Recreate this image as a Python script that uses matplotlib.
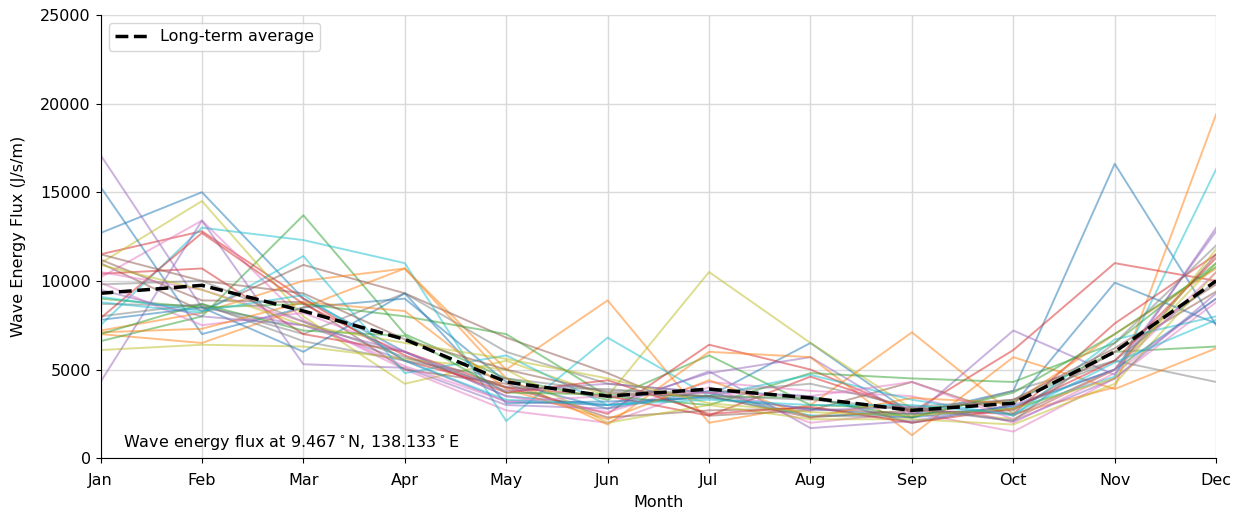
import matplotlib
matplotlib.use("Agg")
import matplotlib.pyplot as plt

months = ["Jan", "Feb", "Mar", "Apr", "May", "Jun", "Jul", "Aug", "Sep", "Oct", "Nov", "Dec"]

# monthly wave energy flux per year (J/s/m)
years_flux = [
    [12700, 15000, 9000, 6000, 3500, 3000, 3500, 6500, 2500, 3800, 16600, 7500],
    [7000, 6500, 8500, 10700, 5000, 8900, 2000, 3000, 7100, 2500, 4000, 19400],
    [6600, 8000, 13700, 7000, 4500, 3300, 5800, 3000, 2800, 3200, 6000, 6300],
    [11500, 12800, 9000, 5500, 4000, 2500, 6400, 5000, 2600, 6100, 11000, 10000],
    [17100, 8500, 7500, 5500, 3200, 3000, 4800, 5700, 2300, 7200, 4700, 13000],
    [11000, 8300, 10900, 9300, 6800, 4800, 2400, 2700, 4300, 2400, 5000, 11500],
    [10200, 13400, 7800, 5000, 2700, 2000, 4000, 2000, 2600, 1500, 4500, 8800],
    [8700, 8600, 7000, 9300, 6000, 4200, 3700, 2400, 2300, 3800, 5500, 4300],
    [11000, 14500, 8000, 4200, 5500, 3500, 10500, 6500, 2800, 2200, 5000, 11000],
    [7500, 13000, 12300, 11000, 2100, 6800, 3500, 2400, 2500, 2800, 4600, 16300],
    [15300, 7000, 8500, 9000, 4300, 2800, 3800, 3500, 2000, 3000, 9900, 7600],
    [7200, 8200, 10000, 10700, 4500, 1900, 6000, 5700, 1300, 5700, 3900, 6200],
    [9000, 8500, 8700, 8000, 7000, 3500, 3000, 4800, 4500, 4300, 6500, 11000],
    [10400, 10700, 7000, 6000, 4000, 3500, 2400, 4600, 2700, 2500, 7600, 11500],
    [4300, 13400, 5300, 5100, 3000, 2800, 4900, 1700, 2100, 3000, 5000, 12800],
    [11200, 8900, 8800, 5000, 4200, 2300, 2700, 2800, 2500, 2700, 6000, 9400],
    [9900, 7500, 8200, 6000, 3500, 2600, 4300, 3800, 3500, 2000, 4800, 9000],
    [8000, 8700, 6600, 5500, 4500, 3800, 3700, 4200, 2900, 3300, 5500, 10000],
    [6100, 6400, 6300, 5600, 5000, 2000, 3000, 2200, 2200, 1900, 4200, 10500],
    [8800, 8200, 11400, 4800, 5800, 3000, 3500, 4700, 3300, 2400, 6700, 8000],
    [7800, 8500, 6000, 9300, 3100, 3200, 3400, 2800, 2300, 2900, 5000, 9000],
    [7100, 7300, 8800, 8300, 3900, 2200, 4400, 2300, 3400, 3100, 7000, 10700],
    [7000, 8700, 7200, 6900, 3700, 3600, 3500, 3400, 2300, 3700, 7000, 10800],
    [7900, 12700, 8700, 5800, 3700, 4400, 2500, 2900, 2000, 2800, 5500, 11300],
    [9500, 8000, 7500, 6000, 3800, 4200, 3700, 2700, 2900, 2100, 4500, 9300],
    [11500, 10000, 9300, 6700, 5000, 3700, 3500, 2300, 2700, 3300, 6200, 9800],
    [10500, 9500, 7700, 5200, 3200, 3500, 3700, 3500, 4300, 2200, 5000, 10500],
    [9800, 10000, 7700, 5700, 4000, 3900, 3500, 3300, 2800, 2100, 6500, 12000],
    [10900, 9500, 7500, 6500, 5600, 4500, 3100, 2600, 2400, 2800, 4500, 11800],
    [9100, 8300, 9200, 5500, 3300, 3000, 3300, 3000, 3000, 2500, 5400, 7800],
]

long_term_avg = [9300, 9750, 8300, 6700, 4300, 3500, 3900, 3400, 2700, 3100, 6000, 10000]

fig = plt.figure(figsize=(12.41, 5.12), dpi=100)
ax = fig.add_axes([0.081, 0.105, 0.899, 0.866])

x = list(range(len(months)))
for vals in years_flux:
    ax.plot(x, vals, lw=1.4, alpha=0.5)

ax.plot(x, long_term_avg, color="black", ls="--", lw=2.5, label="Long-term average")

ax.set_xlim(0, 11)
ax.set_ylim(0, 25000)
ax.set_xticks(x)
ax.set_xticklabels(months, fontsize=11.5)
ax.tick_params(axis="x", pad=7)
ax.tick_params(axis="y", labelsize=11.5)
ax.set_xlabel("Month", fontsize=11.5, labelpad=5)
ax.set_ylabel("Wave Energy Flux (J/s/m)", fontsize=11.5, labelpad=10)
ax.grid(True, color="#dadada", lw=1)
ax.spines["top"].set_visible(False)
ax.spines["right"].set_visible(False)
ax.text(0.02, 0.025, r"Wave energy flux at 9.467$^\circ$N, 138.133$^\circ$E",
        transform=ax.transAxes, fontsize=11.5)
ax.legend(loc="upper left", fontsize=11.5)

fig.savefig("out.png")
